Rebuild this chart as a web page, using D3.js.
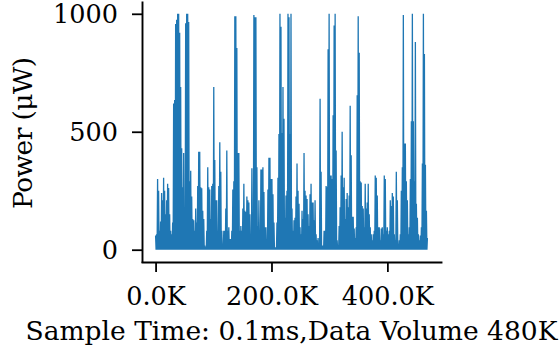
<!DOCTYPE html>
<html>
<head>
<meta charset="utf-8">
<script src="https://cdn.jsdelivr.net/npm/d3@7"></script>
<style>
  body { margin: 0; background: #fff; }
  svg text { font-family: "DejaVu Serif", serif; fill: #000; }
</style>
</head>
<body>
<svg id="chart" width="559" height="356"></svg>
<script>
// Peak power (µW) in each consecutive window of the trace
const peakPower = [
  60, 65, 300, 250, 80, 120, 240, 210, 305, 250, 150, 210, 280, 262, 150, 80, 65, 115, 620, 635,
  957, 975, 1000, 1000, 920, 690, 430, 265, 410, 65, 960, 1000, 1000, 965, 290, 335, 225, 130, 125, 80,
  175, 115, 270, 415, 415, 265, 260, 165, 130, 17, 10, 80, 350, 265, 255, 130, 270, 280, 690, 380,
  210, 210, 80, 270, 455, 330, 80, 25, 80, 80, 175, 420, 80, 95, 45, 45, 80, 255, 290, 990,
  990, 855, 410, 410, 80, 100, 80, 175, 280, 165, 160, 225, 210, 200, 150, 65, 345, 50, 995, 985,
  985, 350, 100, 210, 80, 340, 340, 350, 245, 95, 95, 40, 255, 390, 390, 300, 300, 235, 115, 10,
  10, 115, 305, 490, 1000, 945, 495, 690, 555, 135, 230, 250, 1000, 985, 490, 1000, 175, 80, 125, 135,
  225, 365, 250, 195, 95, 65, 165, 130, 410, 250, 230, 215, 150, 100, 235, 280, 200, 200, 125, 210,
  65, 40, 50, 17, 640, 330, 17, 17, 80, 80, 270, 265, 850, 1000, 315, 315, 300, 570, 950, 1000,
  420, 40, 10, 100, 180, 315, 500, 265, 305, 130, 215, 240, 180, 230, 610, 400, 140, 140, 90, 50,
  95, 655, 990, 835, 290, 285, 185, 175, 95, 280, 175, 200, 280, 150, 95, 65, 40, 65, 80, 315,
  305, 230, 95, 95, 40, 90, 95, 65, 315, 300, 80, 95, 65, 80, 210, 185, 240, 225, 65, 40,
  330, 210, 25, 40, 65, 250, 350, 995, 450, 450, 290, 210, 65, 95, 300, 545, 1000, 545, 290, 880,
  195, 135, 65, 40, 60, 95, 365, 1000, 830, 360, 165, 50
];
// Samples per window and the idle floor the trace returns to between bursts
const binSamples = 1731;
const floorPower = 0;

const xTicks = [0, 200000, 400000];
const yTicks = [0, 500, 1000];
const xLabel = "Sample Time: 0.1ms,Data Volume 480K";
const yLabel = "Power (μW)";

const svg = d3.select("#chart");
const plotLeft = 142, plotRight = 441, plotTop = 2, plotBottom = 262;

// Trace: each window rises to its peak and falls back to the floor
const points = [];
peakPower.forEach((p, i) => {
  points.push([i * binSamples, p]);
  points.push([(i + 0.5) * binSamples, floorPower]);
});
points.pop();

const xMin = 0, xMax = (peakPower.length - 1) * binSamples;
const xPad = (xMax - xMin) * 0.05;
const yMin = floorPower, yMax = d3.max(peakPower);
const yPad = (yMax - yMin) * 0.05;

const x = d3.scaleLinear().domain([xMin - xPad, xMax + xPad]).range([plotLeft, plotRight]);
const y = d3.scaleLinear().domain([yMin - yPad, yMax + yPad]).range([plotBottom - 0.5, plotTop]);

svg.append("path")
  .datum(points)
  .attr("fill", "none")
  .attr("stroke", "#1f77b4")
  .attr("stroke-width", 1.3)
  .attr("stroke-linejoin", "miter")
  .attr("d", d3.line().x(d => x(d[0])).y(d => y(d[1])));

const tickPx = 25.5;
const labelPx = 26.5;

const gx = svg.append("g")
  .attr("transform", `translate(0,${plotBottom})`)
  .call(d3.axisBottom(x).tickValues(xTicks).tickSize(10).tickSizeOuter(0)
    .tickFormat(d => (d / 1000).toFixed(1) + "K"));
const gy = svg.append("g")
  .attr("transform", `translate(${plotLeft},0)`)
  .call(d3.axisLeft(y).tickValues(yTicks).tickSize(10).tickSizeOuter(0)
    .tickFormat(d3.format("d")));

[gx, gy].forEach(g => {
  g.select(".domain").attr("stroke", "#000").attr("stroke-width", 1.9).attr("stroke-linecap", "square");
  g.selectAll(".tick line").attr("stroke", "#000").attr("stroke-width", 1.8);
  g.selectAll(".tick text").attr("font-size", tickPx).attr("font-family", "DejaVu Serif").attr("fill", "#000");
});
gx.selectAll(".tick text").attr("y", 43).attr("dy", 0);
gy.selectAll(".tick text").attr("x", -24).attr("dy", "0.33em");

svg.append("text")
  .attr("x", (plotLeft + plotRight) / 2)
  .attr("y", 340)
  .attr("text-anchor", "middle")
  .attr("font-size", labelPx)
  .text(xLabel);

svg.append("text")
  .attr("transform", `translate(32,133) rotate(-90)`)
  .attr("text-anchor", "middle")
  .attr("font-size", labelPx)
  .attr("textLength", 152)
  .attr("lengthAdjust", "spacing")
  .text(yLabel);
</script>
</body>
</html>
